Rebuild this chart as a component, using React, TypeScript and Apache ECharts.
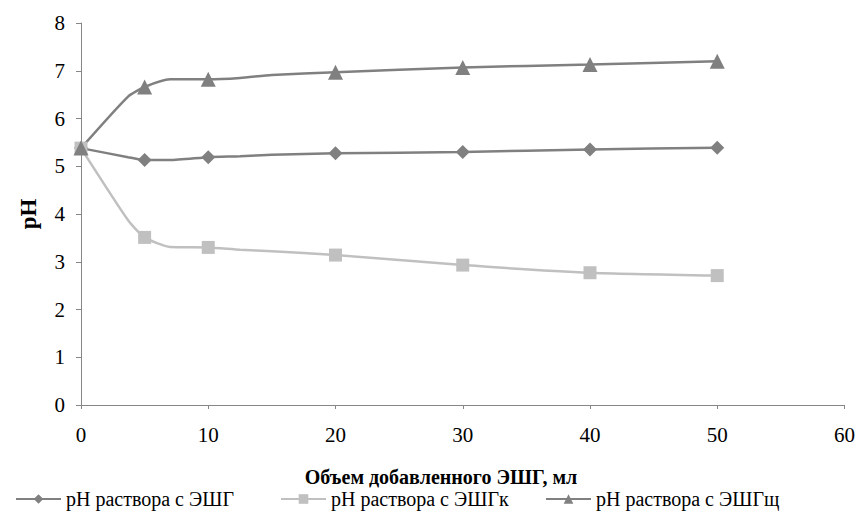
import React, { useEffect, useRef } from "react";
import * as echarts from "echarts";

const xValues = [0, 3.7, 5, 7, 10, 12.5, 15, 20, 30, 40, 50];
const marked = [true, false, true, false, true, false, false, true, true, true, true];
const phEshg = [5.38, 5.19, 5.13, 5.13, 5.19, 5.21, 5.24, 5.27, 5.3, 5.35, 5.39];
const phEshgK = [5.38, 3.87, 3.51, 3.31, 3.3, 3.25, 3.22, 3.14, 2.93, 2.77, 2.71];
const phEshgSh = [5.38, 6.46, 6.66, 6.82, 6.82, 6.85, 6.91, 6.97, 7.07, 7.13, 7.2];
const seriesNames = ["pH раствора с ЭШГ", "pH раствора с ЭШГк", "pH раствора с ЭШГщ"];
const xAxisTitle = "Объем добавленного ЭШГ, мл";
const yAxisTitle = "pH";

const FONT = "Liberation Serif";
const legendLefts = [15, 280, 545];

export default function App() {
  const ref = useRef<HTMLDivElement>(null);
  useEffect(() => {
    document.body.style.margin = "0";
    if (!ref.current) return;
    const chart = echarts.init(ref.current, undefined, { renderer: "svg" });
    const build = (vals: number[]) =>
      vals.map((v, i) => (marked[i] ? [xValues[i], v] : { value: [xValues[i], v], symbol: "none" }));
    const mk = (name: string, vals: number[], color: string, symbol: string, size: number) => ({
      name,
      type: "line",
      data: build(vals),
      smooth: 0.2,
      symbol,
      symbolSize: size,
      showSymbol: true,
      lineStyle: { color, width: 2.5 },
      itemStyle: { color },
      emphasis: { disabled: true },
    });
    chart.setOption({
      animation: false,
      textStyle: { fontFamily: FONT },
      grid: { left: 81, right: 12, top: 23, bottom: 106, containLabel: false },
      xAxis: {
        type: "value",
        min: 0,
        max: 60,
        interval: 10,
        axisLine: { show: true, lineStyle: { color: "#868686", width: 1 } },
        axisTick: { show: true, length: 4, lineStyle: { color: "#868686" } },
        axisLabel: { margin: 19, fontFamily: FONT, fontSize: 21, color: "#000" },
        splitLine: { show: false },
      },
      yAxis: {
        type: "value",
        min: 0,
        max: 8,
        interval: 1,
        axisLine: { show: true, lineStyle: { color: "#868686", width: 1 } },
        axisTick: { show: true, length: 5, lineStyle: { color: "#868686" } },
        axisLabel: { margin: 16, fontFamily: FONT, fontSize: 21, color: "#000" },
        splitLine: { show: false },
      },
      legend: seriesNames.map((n, i) => ({
        top: 489,
        left: legendLefts[i],
        padding: 0,
        itemWidth: 45,
        itemHeight: 12,
        textStyle: { fontFamily: FONT, fontSize: 20, color: "#000" },
        data: [n],
      })),
      graphic: [
        {
          type: "text",
          x: 441,
          y: 477,
          style: {
            text: xAxisTitle,
            fontFamily: FONT,
            fontWeight: "bold",
            fontSize: 20,
            fill: "#000",
            textAlign: "center",
            textVerticalAlign: "middle",
          },
        },
        {
          type: "text",
          x: 28,
          y: 214,
          rotation: Math.PI / 2,
          style: {
            text: yAxisTitle,
            fontFamily: FONT,
            fontWeight: "bold",
            fontSize: 23,
            fill: "#000",
            textAlign: "center",
            textVerticalAlign: "middle",
          },
        },
      ],
      series: [
        mk(seriesNames[0], phEshg, "#808080", "diamond", 14),
        mk(seriesNames[1], phEshgK, "#C0C0C0", "rect", 13),
        mk(seriesNames[2], phEshgSh, "#808080", "triangle", 15),
      ],
    });
    return () => chart.dispose();
  }, []);
  return <div ref={ref} style={{ width: 858, height: 511 }} />;
}
